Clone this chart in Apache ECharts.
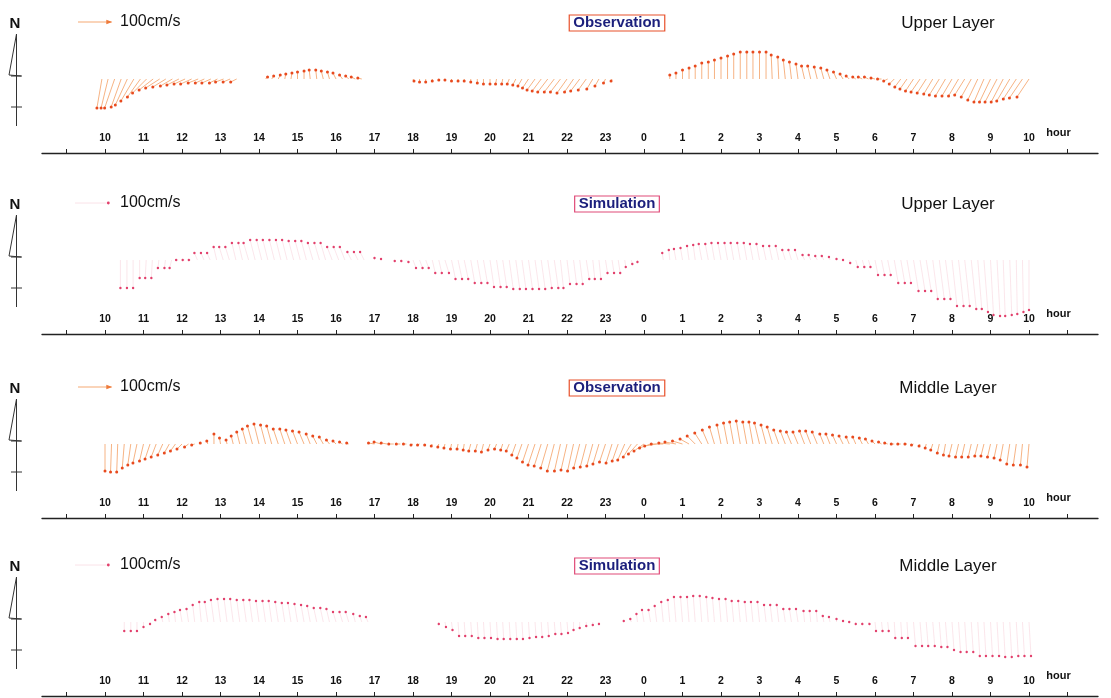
<!DOCTYPE html>
<html><head><meta charset="utf-8">
<script src="https://cdn.jsdelivr.net/npm/echarts@6/dist/echarts.min.js"></script>
<style>html,body{margin:0;padding:0;background:#fff}#c{width:1111px;height:698px}</style>
</head><body><div id="c"></div>
<script>
// ---- DATA (time in hours from 10:00 of day 1; 24 = 0:00 next day; u = east, v = north, cm/s) ----
const tickHours = [9,10,11,12,13,14,15,16,17,18,19,20,21,22,23,24,25,26,27,28,29,30,31,32,33,34,35];
const labelHours = [10,11,12,13,14,15,16,17,18,19,20,21,22,23,24,25,26,27,28,29,30,31,32,33,34,35];
const panelTitles = ['Observation','Simulation','Observation','Simulation'];
const layerNames = ['Upper Layer','Upper Layer','Middle Layer','Middle Layer'];
const scaleLabel = '100cm/s';

const obsUpperT = [9.92,10.08,10.25,10.42,10.58,10.75,10.92,11.08,11.25,11.42,11.58,11.75,11.92,12.08,12.25,12.42,12.58,12.75,12.92,13.08,13.25,13.42,
 14.17,14.33,14.5,14.67,14.83,15,15.17,15.33,15.5,15.67,15.83,16,16.17,16.33,16.5,16.67,
 18,18.17,18.33,18.5,18.67,18.83,19,19.17,19.33,19.5,19.67,19.83,20,20.17,20.33,20.5,20.67,20.83,21,21.17,21.33,21.5,21.67,21.83,22,22.17,22.33,22.5,22.67,22.83,23,23.17,
 24.67,24.83,25,25.17,25.33,25.5,25.67,25.83,26,26.17,26.33,26.5,26.67,26.83,27,27.17,27.33,27.5,27.67,27.83,28,28.17,28.33,28.5,28.67,28.83,29,29.17,29.33,29.5,29.67,29.83,30,30.17,30.33,30.5,30.67,30.83,31,31.17,31.33,31.5,31.67,31.83,32,32.17,32.33,32.5,32.67,32.83,33,33.17,33.33,33.5,33.67,33.83,34];
const obsUpperU = [-15,-21,-30,-30,-36,-39,-39,-42,-42,-42,-39,-36,-36,-33,-33,-30,-27,-27,-24,-24,-21,-18,
 6,6,6,3,3,0,0,-3,-3,-6,-6,-9,-9,-9,-12,-12,
 3,0,0,0,0,0,0,0,0,0,0,0,0,-3,-3,-6,-9,-12,-18,-24,-27,-30,-30,-30,-30,-27,-27,-24,-18,-12,-6,-3,
 0,0,0,0,0,0,0,0,0,0,0,0,0,0,0,0,-3,-3,-6,-6,-6,-9,-9,-9,-9,-9,-9,-9,-9,-9,-12,-12,-12,-12,-12,-15,-18,-21,-24,-27,-27,-27,-30,-30,-30,-30,-30,-30,-30,-30,-33,-36,-36,-39,-39,-39,-36];
const obsUpperV = [-87,-87,-87,-84,-78,-66,-54,-42,-33,-27,-24,-21,-18,-15,-15,-12,-12,-12,-12,-9,-9,-9,
 6,9,12,15,18,21,24,27,27,24,21,18,12,9,6,3,
 -6,-9,-9,-6,-3,-3,-6,-6,-6,-9,-12,-15,-15,-15,-15,-15,-18,-21,-27,-33,-36,-39,-39,-39,-42,-39,-36,-33,-30,-21,-12,-6,
 12,18,27,33,39,48,51,57,63,69,75,81,81,81,81,81,72,66,57,51,45,39,39,36,33,27,21,15,9,6,6,6,3,0,-6,-15,-24,-30,-36,-39,-42,-45,-48,-51,-51,-51,-48,-54,-63,-69,-69,-69,-69,-66,-60,-57,-54];

const simUpperT = [10.4,10.57,10.73,10.9,11.07,11.23,11.4,11.57,11.73,11.9,12.07,12.23,12.4,12.57,12.73,12.9,13.07,13.23,13.4,13.57,13.73,13.9,14.07,14.23,14.4,14.57,14.73,14.9,15.07,15.23,15.4,15.57,15.73,15.9,16.07,16.23,16.4,16.57,16.73,
 17,17.17,17.5,17.67,17.83,18,18.17,18.33,18.5,18.67,18.83,19,19.17,19.33,19.5,19.67,19.83,20,20.17,20.33,20.5,20.67,20.83,21,21.17,21.33,21.5,21.67,21.83,22,22.17,22.33,22.5,22.67,22.83,23,23.17,23.33,23.5,23.67,23.83,
 24.5,24.67,24.83,25,25.17,25.33,25.5,25.67,25.83,26,26.17,26.33,26.5,26.67,26.83,27,27.17,27.33,27.5,27.67,27.83,28,28.17,28.33,28.5,28.67,28.83,29,29.17,29.33,29.5,29.67,29.83,30,30.17,30.33,30.5,30.67,30.83,31,31.17,31.33,31.5,31.67,31.83,32,32.17,32.33,32.5,32.67,32.83,33,33.17,33.33,33.5,33.67,33.83,34];
const simUpperU = [0,0,0,0,-3,-3,-3,-3,-6,-6,-6,-6,-9,-9,-9,-9,-12,-12,-12,-12,-15,-15,-15,-15,-15,-15,-15,-15,-15,-15,-15,-15,-15,-15,-15,-15,-12,-12,-12,
 0,0,3,3,6,9,9,9,9,9,12,12,12,12,12,12,12,12,12,12,12,12,12,12,12,12,12,12,9,9,9,9,9,6,6,6,6,6,3,3,0,
 -3,-3,-6,-6,-6,-6,-9,-9,-9,-9,-9,-9,-9,-9,-9,-9,-9,-9,-9,-9,-9,-9,-6,-6,-6,-6,-3,0,0,3,6,6,6,9,9,9,12,12,12,15,15,15,15,15,15,15,15,15,15,12,12,9,9,6,6,3,3,0];
const simUpperV = [-84,-84,-84,-54,-54,-54,-24,-24,-24,0,0,0,21,21,21,39,39,39,51,51,51,60,60,60,60,60,60,57,57,57,51,51,51,39,39,39,24,24,24,
 6,3,-3,-3,-6,-24,-24,-24,-39,-39,-39,-57,-57,-57,-69,-69,-69,-81,-81,-81,-87,-87,-87,-87,-87,-87,-84,-84,-84,-72,-72,-72,-57,-57,-57,-39,-39,-39,-21,-12,-6,
 21,30,33,36,42,45,48,48,51,51,51,51,51,51,48,48,42,42,42,30,30,30,15,15,12,12,9,3,0,-9,-21,-21,-21,-45,-45,-45,-69,-69,-69,-93,-93,-93,-117,-117,-117,-138,-138,-138,-147,-147,-156,-165,-168,-168,-165,-162,-156,-150];

const obsMidT = [10,10.17,10.33,10.5,10.67,10.83,11,11.17,11.33,11.5,11.67,11.83,12,12.17,12.33,
 12.5,12.67,12.83,13,13.17,13.33,13.5,13.67,13.83,14,14.17,14.33,14.5,14.67,14.83,15,15.17,15.33,15.5,15.67,15.83,16,16.17,16.33,
 17,17.17,17.33,17.5,17.67,17.83,18,18.17,18.33,18.5,18.67,18.83,19,19.17,19.33,19.5,19.67,19.83,20,20.17,20.33,20.5,20.67,20.83,21,21.17,21.33,21.5,21.67,21.83,22,22.17,22.33,22.5,22.67,22.83,23,23.17,23.33,23.5,23.67,23.83,
 24,24.17,24.33,24.5,24.67,24.83,25,25.17,25.33,25.5,25.67,25.83,26,26.17,26.33,26.5,26.67,26.83,27,27.17,27.33,27.5,27.67,27.83,28,28.17,28.33,28.5,28.67,28.83,29,29.17,29.33,29.5,29.67,29.83,30,30.17,30.33,30.5,30.67,30.83,31,31.17,31.33,31.5,31.67,31.83,32,32.17,32.33,32.5,32.67,32.83,33,33.17,33.33,33.5,33.67,33.83,34];
const obsMidU = [0,-3,-3,-6,-9,-12,-12,-15,-15,-15,-15,-15,-15,-12,-9,
 -3,-3,0,-3,-3,-6,-9,-12,-15,-15,-15,-15,-15,-15,-15,-15,-15,-12,-12,-12,-9,-9,-9,-6,
 -18,-21,-18,-15,-12,-9,-6,-6,-3,-3,-3,-3,-3,-3,-3,-6,-6,-6,-6,-6,-6,-9,-12,-15,-18,-21,-21,-21,-21,-18,-18,-18,-18,-18,-18,-18,-18,-18,-18,-21,-24,-27,
 -30,-33,-36,-36,-33,-33,-30,-27,-24,-21,-18,-15,-12,-12,-12,-12,-12,-12,-15,-15,-15,-15,-15,-15,-15,-15,-15,-15,-12,-12,-12,-12,-9,-9,-9,-9,-9,-9,-9,-9,-9,-6,-6,-3,-3,-6,-6,-6,-9,-9,-9,-9,-9,-9,-9,-9,-9,-9,-9,-6,-6];
const obsMidV = [-81,-84,-84,-72,-63,-57,-51,-45,-39,-33,-27,-21,-15,-9,-3,
 3,9,30,18,12,24,36,45,54,60,57,54,45,45,42,39,36,30,24,21,12,9,6,3,
 3,6,3,0,0,0,-3,-3,-3,-6,-9,-12,-15,-15,-18,-21,-21,-24,-18,-15,-18,-21,-33,-42,-54,-63,-66,-72,-81,-81,-78,-81,-72,-69,-66,-60,-54,-57,-51,-48,-39,-30,
 -21,-12,-6,0,3,6,9,15,24,33,42,51,57,63,66,69,66,66,63,57,51,42,39,36,36,39,39,36,30,30,27,24,21,21,18,15,9,6,3,0,0,0,-3,-6,-12,-18,-27,-33,-36,-39,-39,-39,-36,-36,-39,-42,-48,-60,-63,-63,-69];

const simMidT = [10.5,10.67,10.83,11,11.17,11.33,11.5,11.67,11.83,12,12.17,12.33,12.5,12.67,12.83,13,13.17,13.33,13.5,13.67,13.83,14,14.17,14.33,14.5,14.67,14.83,15,15.17,15.33,15.5,15.67,15.83,16,16.17,16.33,16.5,16.67,16.83,
 18.67,18.83,19,19.17,19.33,19.5,19.67,19.83,20,20.17,20.33,20.5,20.67,20.83,21,21.17,21.33,21.5,21.67,21.83,22,22.17,22.33,22.5,22.67,22.83,
 23.5,23.67,23.83,24,24.17,24.33,24.5,24.67,24.83,25,25.17,25.33,25.5,25.67,25.83,26,26.17,26.33,26.5,26.67,26.83,27,27.17,27.33,27.5,27.67,27.83,28,28.17,28.33,28.5,28.67,28.83,29,29.17,29.33,29.5,29.67,29.83,30,30.17,30.33,30.5,30.67,30.83,31,31.17,31.33,31.5,31.67,31.83,32,32.17,32.33,32.5,32.67,32.83,33,33.17,33.33,33.5,33.67,33.83,34];
const simMidU = [0,0,0,0,0,-3,-3,-3,-3,-6,-6,-6,-6,-9,-9,-9,-9,-9,-9,-9,-9,-9,-9,-9,-9,-9,-9,-9,-9,-9,-9,-9,-9,-9,-9,-9,-6,-6,-6,
 0,3,3,3,3,3,3,3,3,3,3,3,3,3,3,3,3,3,3,3,3,0,0,0,0,0,
 -3,-3,-3,-6,-6,-6,-6,-6,-6,-6,-6,-6,-6,-6,-6,-6,-6,-6,-6,-6,-6,-6,-6,-6,-6,-6,-6,-6,-3,-3,-3,-3,-3,0,0,0,0,0,3,3,3,3,3,3,3,6,6,6,6,6,6,6,6,6,6,6,6,6,6,6,6,6,6,6];
const simMidV = [-27,-27,-27,-15,-6,6,15,24,30,36,39,51,60,60,66,69,69,69,66,66,66,63,63,63,60,57,57,54,51,48,42,42,39,30,30,30,24,18,15,
 -6,-15,-24,-42,-42,-42,-48,-48,-48,-51,-51,-51,-51,-51,-48,-45,-45,-42,-36,-36,-33,-24,-18,-12,-9,-6,
 3,9,24,36,36,48,60,66,75,75,75,78,78,75,72,69,69,63,63,60,60,60,51,51,51,39,39,39,33,33,33,18,15,9,3,0,-6,-6,-6,-27,-27,-27,-48,-48,-48,-72,-72,-72,-72,-75,-75,-84,-90,-90,-90,-102,-102,-102,-102,-105,-105,-102,-102,-102];

// ---- LAYOUT ----
const W = 1111, H = 698;
const AXIS_Y = [153, 334, 518, 696];
const GRID_L = 42, GRID_R = 1098;
const X_MIN = 8.3636, X_MAX = 35.7922;
const Y_MIN = -222, Y_MAX = 210;          // 3 cm/s per pixel
const FONT = '"Liberation Sans", Arial, sans-serif';

const panels = [
  {T: obsUpperT, U: obsUpperU, V: obsUpperV, obs: true},
  {T: simUpperT, U: simUpperU, V: simUpperV, obs: false},
  {T: obsMidT, U: obsMidU, V: obsMidV, obs: true},
  {T: simMidT, U: simMidU, V: simMidV, obs: false}
];
panels.forEach((p, i) => {
  if (p.T.length !== p.U.length || p.T.length !== p.V.length) console.error('length mismatch panel', i, p.T.length, p.U.length, p.V.length);
});

function makeRender(obs) {
  const lineColor = obs ? '#f5aa76' : '#f9dbe3';
  const dotColor = obs ? '#e84a1e' : '#e2406c';
  const r = obs ? 1.5 : 1.2;
  const lw = obs ? 0.9 : 0.7;
  return function (params, api) {
    const t = api.value(0), u = api.value(1), v = api.value(2);
    const base = api.coord([t, 0]);
    const tipY = api.coord([t, v])[1];
    const pxPerUnit = api.size([0, 1])[1];
    const tipX = base[0] + u * pxPerUnit;
    return {
      type: 'group',
      children: [
        {type: 'line', shape: {x1: base[0], y1: base[1], x2: tipX, y2: tipY}, style: {stroke: lineColor, lineWidth: lw}},
        {type: 'circle', shape: {cx: tipX, cy: tipY, r: r}, style: {fill: dotColor}}
      ]
    };
  };
}

const grids = [], xAxes = [], yAxes = [], series = [], graphics = [];
AXIS_Y.forEach((A, i) => {
  const p = panels[i];
  grids.push({left: GRID_L, right: W - GRID_R, top: A - 144, bottom: H - A, containLabel: false});
  xAxes.push({
    type: 'value', gridIndex: i, min: X_MIN, max: X_MAX, position: 'bottom',
    axisLine: {show: true, onZero: false, lineStyle: {color: '#222', width: 1.3}},
    axisTick: {show: true, inside: true, length: 4, customValues: tickHours, lineStyle: {color: '#222', width: 1}},
    axisLabel: {
      show: true, inside: true, margin: 9, customValues: labelHours,
      fontFamily: FONT, fontWeight: 'bold', fontSize: 10.5, color: '#111',
      formatter: function (v) { return v === 35 ? '{h|hour}' : String(Math.round(v) % 24); },
      rich: {h: {fontFamily: FONT, fontWeight: 'bold', fontSize: 11, color: '#111', padding: [0, 18, 6, 0]}}
    },
    splitLine: {show: false}
  });
  yAxes.push({type: 'value', gridIndex: i, min: Y_MIN, max: Y_MAX, show: false, splitLine: {show: false}});
  const data = p.T.map((t, k) => [t, p.U[k], p.V[k]]);
  series.push({
    type: 'custom', xAxisIndex: i, yAxisIndex: i, coordinateSystem: 'cartesian2d',
    renderItem: makeRender(p.obs), data: data, encode: {x: 0, y: 2}, clip: false, silent: true
  });

  // decorations
  const C = A - 77;
  graphics.push({type: 'text', x: 15, y: C - 52, style: {text: 'N', font: 'bold 15px ' + FONT, fill: '#111', align: 'center', verticalAlign: 'middle'}});
  graphics.push({type: 'polyline', shape: {points: [[21, C], [9, C - 1], [16.5, C - 42], [16.5, C + 50]]}, style: {stroke: '#333', lineWidth: 1, fill: null}});
  graphics.push({type: 'line', shape: {x1: 11, y1: C, x2: 22, y2: C}, style: {stroke: '#333', lineWidth: 1}});
  graphics.push({type: 'line', shape: {x1: 11, y1: C + 31, x2: 22, y2: C + 31}, style: {stroke: '#333', lineWidth: 1}});
  const LY = A - 131;
  const arrowLen = 100 / 3;
  if (p.obs) {
    graphics.push({type: 'line', shape: {x1: 78, y1: LY, x2: 78 + arrowLen, y2: LY}, style: {stroke: '#f6aa74', lineWidth: 1.1}});
    graphics.push({type: 'polygon', shape: {points: [[78 + arrowLen + 1, LY], [78 + arrowLen - 5, LY - 2.2], [78 + arrowLen - 5, LY + 2.2]]}, style: {fill: '#ee7a3a'}});
  } else {
    graphics.push({type: 'line', shape: {x1: 75, y1: LY, x2: 75 + arrowLen, y2: LY}, style: {stroke: '#fae2e8', lineWidth: 1}});
    graphics.push({type: 'circle', shape: {cx: 75 + arrowLen, cy: LY, r: 1.4}, style: {fill: '#e2406c'}});
  }
  graphics.push({type: 'text', x: 120, y: LY, style: {text: scaleLabel, font: '16px ' + FONT, fill: '#111', align: 'left', verticalAlign: 'middle'}});
  graphics.push({type: 'text', x: 617, y: A - 130, style: {
    text: panelTitles[i], font: 'bold 15px ' + FONT, fill: '#1b1f7c', align: 'center', verticalAlign: 'middle',
    borderColor: p.obs ? '#e8502a' : '#e04a78', borderWidth: 1.2, padding: [1, 4, 0, 4]
  }});
  graphics.push({type: 'text', x: 948, y: A - 130, style: {text: layerNames[i], font: '17px ' + FONT, fill: '#111', align: 'center', verticalAlign: 'middle'}});
});

const chart = echarts.init(document.getElementById('c'), null, {renderer: 'canvas'});
chart.setOption({
  animation: false,
  backgroundColor: '#ffffff',
  grid: grids, xAxis: xAxes, yAxis: yAxes, series: series,
  graphic: graphics
});
</script></body></html>
